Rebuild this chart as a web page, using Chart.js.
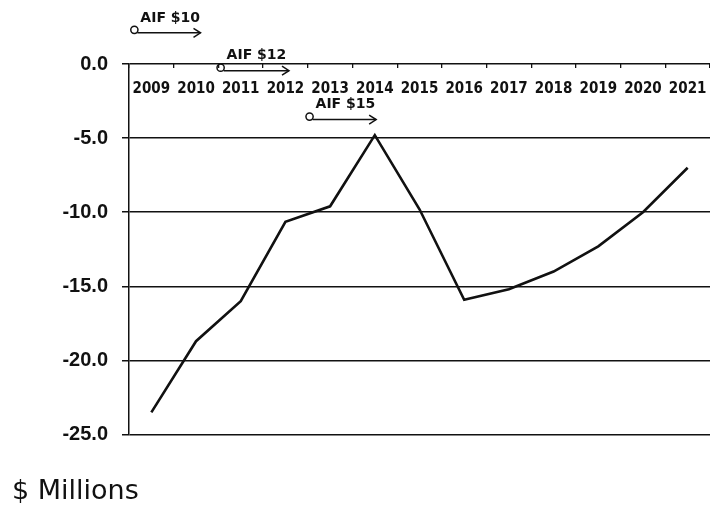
<!DOCTYPE html>
<html>
<head>
<meta charset="utf-8">
<script src="https://cdn.jsdelivr.net/npm/chart.js@4"></script>
<style>
  html, body { margin: 0; padding: 0; background: #fff; }
  #wrap { width: 710px; height: 508px; }
</style>
</head>
<body>
<div id="wrap"><canvas id="c" width="710" height="508"></canvas></div>
<script>
// ---- data ----
const years = ['2009','2010','2011','2012','2013','2014','2015','2016','2017','2018','2019','2020','2021'];
const netValues = [-23.5, -18.7, -16.0, -10.65, -9.6, -4.8, -9.8, -15.9, -15.2, -14.0, -12.3, -10.0, -7.0];
const yTicks = [0, -5, -10, -15, -20, -25];
const aifLabels = ['AIF $10', 'AIF $12', 'AIF $15'];
const aifFromYear = [2008.62, 2010.55, 2012.54];
const aifToYear = [2010.1, 2012.08, 2014.03];
const unitLabel = '$ Millions';

const aifPlugin = {
  id: 'aif',
  afterDraw(chart, args, opts) {
    const ctx = chart.ctx;
    const xs = chart.scales.x, ys = chart.scales.y;
    const first = Number(years[0]);
    ctx.save();
    ctx.strokeStyle = '#111';
    ctx.fillStyle = '#111';
    ctx.lineWidth = 1.5;
    ctx.font = 'bold 14px "DejaVu Sans", Verdana, sans-serif';
    ctx.textBaseline = 'middle';
    ctx.textAlign = 'left';
    aifLabels.forEach((lab, i) => {
      const x0 = xs.getPixelForValue(aifFromYear[i] - first);
      const x1 = xs.getPixelForValue(aifToYear[i] - first);
      const y = ys.getPixelForValue(opts.levels[i]);
      ctx.beginPath();
      ctx.arc(x0, y - 3, 3.6, 0, Math.PI * 2);
      ctx.stroke();
      ctx.beginPath();
      ctx.moveTo(x0 + 3, y);
      ctx.lineTo(x1, y);
      ctx.stroke();
      ctx.beginPath();
      ctx.moveTo(x1 - 7, y - 4.5);
      ctx.lineTo(x1, y);
      ctx.lineTo(x1 - 7, y + 4.5);
      ctx.stroke();
      ctx.fillText(lab, x0 + 6, y - 15);
    });
    ctx.restore();
  }
};

new Chart(document.getElementById('c'), {
  type: 'line',
  data: {
    labels: years,
    datasets: [{
      data: netValues,
      borderColor: '#111',
      borderWidth: 2.6,
      pointRadius: 0,
      tension: 0,
      fill: false
    }]
  },
  options: {
    responsive: false,
    animation: false,
    devicePixelRatio: 1,
    layout: { padding: { top: 64, right: 0, left: 12, bottom: 0 } },
    plugins: {
      legend: { display: false },
      tooltip: { enabled: false },
      title: {
        display: true,
        text: unitLabel,
        position: 'bottom',
        align: 'start',
        color: '#111',
        font: { family: '"DejaVu Sans", Verdana, sans-serif', size: 27, weight: 'normal' },
        padding: { top: 41, bottom: 0 }
      },
      aif: { levels: [2.1, -0.45, -3.75] }
    },
    scales: {
      x: {
        type: 'category',
        position: { y: 0 },
        offset: true,
        afterFit(scale) { scale.paddingLeft = 0; scale.paddingRight = 0; },
        grid: { offset: true, drawOnChartArea: false, drawTicks: true, tickLength: 4, color: '#111', lineWidth: 1.3 },
        border: { display: false },
        ticks: {
          autoSkip: false, maxRotation: 0, padding: 12, color: '#111',
          font: { family: '"Liberation Sans Narrow", "Arial Narrow", "DejaVu Sans Condensed", sans-serif', size: 15, weight: 'bold' }
        }
      },
      y: {
        min: -25, max: 0,
        afterBuildTicks(scale) { scale.ticks = yTicks.map(v => ({ value: v })); },
        afterFit(scale) { scale.width = 117; },
        grid: { color: '#111', lineWidth: 1.5, tickLength: 7, drawTicks: true },
        border: { display: true, color: '#111', width: 1.5 },
        ticks: {
          padding: 14, color: '#111',
          font: { family: '"Liberation Sans", Arial, sans-serif', size: 20, weight: 'bold' },
          callback: v => Number(v).toFixed(1)
        }
      }
    }
  },
  plugins: [aifPlugin]
});
</script>
</body>
</html>
